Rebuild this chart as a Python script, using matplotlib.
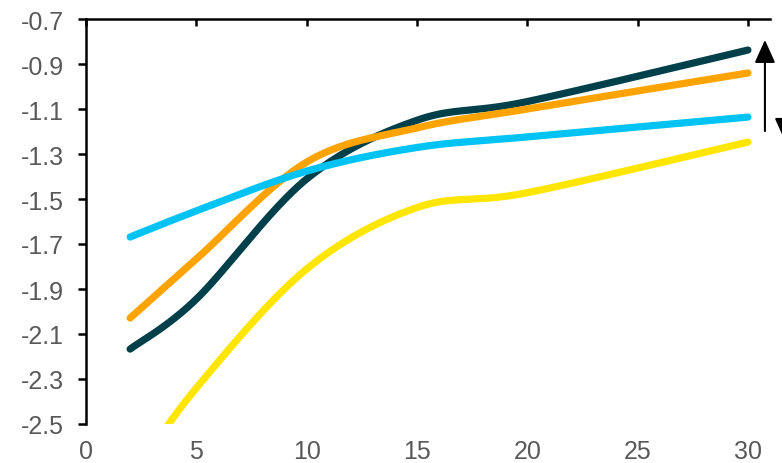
import numpy as np
import matplotlib
matplotlib.use('Agg')
import matplotlib.pyplot as plt
from matplotlib.patches import FancyArrowPatch, ArrowStyle

plt.rcParams['font.family'] = ['Liberation Sans', 'DejaVu Sans']

# tenors (years) and the four curves
tenor = [2, 5, 10, 15, 20, 30]
curve_dark = [-2.167, -1.945, -1.411, -1.150, -1.067, -0.838]
curve_orange = [-2.029, -1.767, -1.336, -1.184, -1.100, -0.940]
curve_blue = [-1.669, -1.553, -1.376, -1.271, -1.224, -1.136]
curve_yellow = [-2.75, -2.34, -1.811, -1.538, -1.472, -1.247]

xticks = [0, 5, 10, 15, 20, 25, 30]
yticks = [-2.5, -2.3, -2.1, -1.9, -1.7, -1.5, -1.3, -1.1, -0.9, -0.7]


def smooth(xs, ys, n=60):
    # bezier smoothing through every point, like a spreadsheet "smoothed line"
    p = np.column_stack([xs, ys]).astype(float)
    p = np.vstack([p[0], p, p[-1]])
    out = []
    t = np.linspace(0, 1, n)[:, None]
    for i in range(1, len(p) - 2):
        p0, p3 = p[i], p[i + 1]
        c1 = p0 + (p[i + 1] - p[i - 1]) / 6.0
        c2 = p3 - (p[i + 2] - p[i]) / 6.0
        seg = ((1 - t) ** 3) * p0 + 3 * ((1 - t) ** 2) * t * c1 + 3 * (1 - t) * t ** 2 * c2 + t ** 3 * p3
        out.append(seg if i == 1 else seg[1:])
    out = np.vstack(out)
    return out[:, 0], out[:, 1]


fig = plt.figure(figsize=(7.82, 4.64), dpi=100)
ax = fig.add_axes([86 / 782, 1 - 425 / 464, (770 - 86) / 782, 405 / 464])

series = [(curve_dark, '#00404A'), (curve_orange, '#FFA300'),
          (curve_blue, '#00C3F5'), (curve_yellow, '#FFE600')]
for i, (vals, col) in enumerate(series):
    sx, sy = smooth(tenor, vals)
    ax.plot(sx, sy, color=col, lw=5.2, solid_capstyle='round', zorder=2 + i)

ax.set_xlim(0, 31)
ax.set_ylim(-2.5, -0.7)
ax.set_xticks(xticks)
ax.set_yticks(yticks)
ax.set_yticklabels(['%.1f' % v for v in yticks])

for s in ['bottom', 'right']:
    ax.spines[s].set_visible(False)
for s in ['left', 'top']:
    ax.spines[s].set_linewidth(1.8)
    ax.spines[s].set_color('black')

ax.tick_params(axis='x', top=True, bottom=False, labeltop=False, labelbottom=True,
               direction='in', length=5, width=1.8, pad=11, labelsize=18, labelcolor='#595959')
ax.tick_params(axis='y', left=True, direction='out', length=6, width=1.8,
               pad=10, labelsize=18, labelcolor='#595959')

# spread arrows on the right
style = ArrowStyle('-|>', head_length=1.0, head_width=0.45)
up = FancyArrowPatch((30.77, -1.198), (30.77, -0.793), arrowstyle=style, mutation_scale=14,
                     color='black', lw=1.5, clip_on=False, shrinkA=0, shrinkB=0)
down = FancyArrowPatch((31.68, -0.80), (31.68, -1.242), arrowstyle=style, mutation_scale=14,
                       color='black', lw=1.5, clip_on=False, shrinkA=0, shrinkB=0)
ax.add_patch(up)
ax.add_patch(down)

fig.savefig('out.png', dpi=100)
